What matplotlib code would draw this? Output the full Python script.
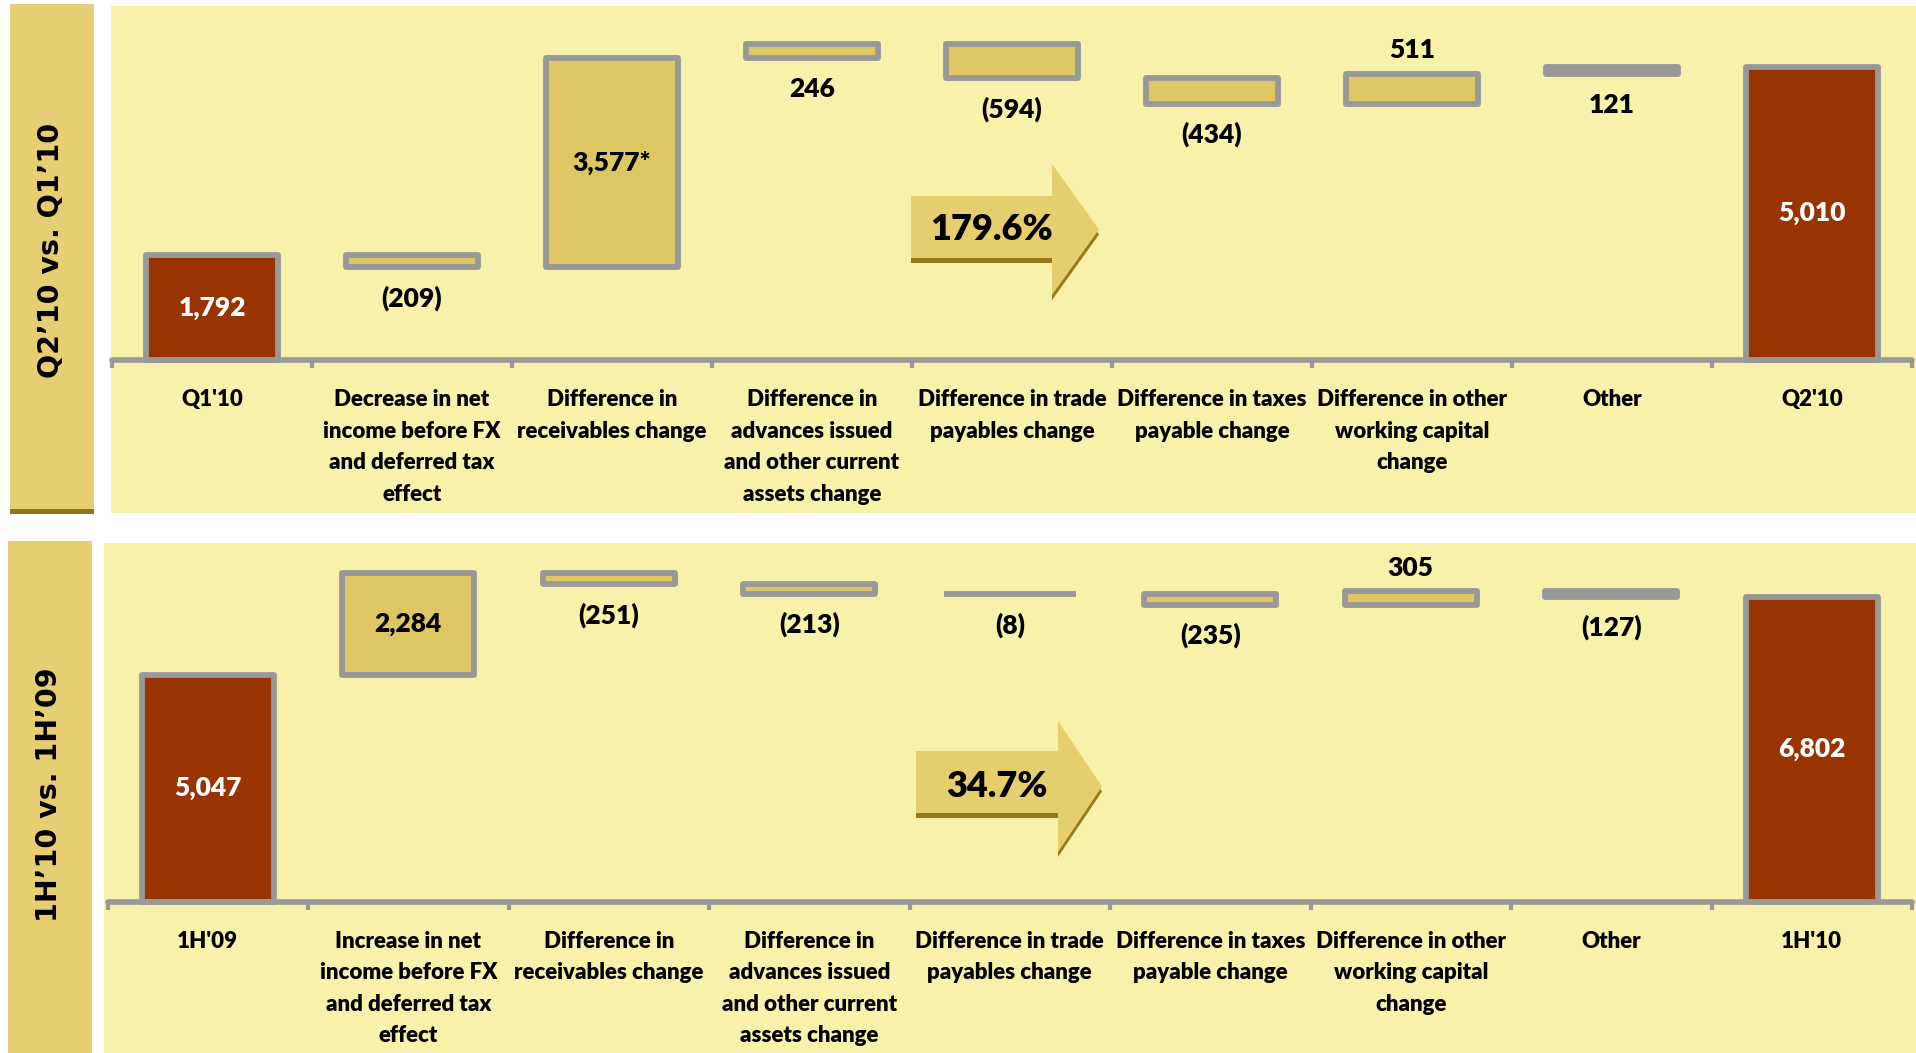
import matplotlib
matplotlib.use('Agg')
import matplotlib.pyplot as plt
import numpy as np
from matplotlib.patches import Rectangle, Polygon

# --- data -------------------------------------------------------------
top_cats = ["Q1'10",
            'Decrease in net\nincome before FX\nand deferred tax\neffect',
            'Difference in\nreceivables change',
            'Difference in\nadvances issued\nand other current\nassets change',
            'Difference in trade\npayables change',
            'Difference in taxes\npayable change',
            'Difference in other\nworking capital\nchange',
            'Other',
            "Q2'10"]
top_vals = [1792, -209, 3577, 246, -594, -434, 511, 121, 5010]
top_pos = ['in', 'below', 'in', 'below', 'below', 'below', 'above', 'below', 'in']
top_note = {2: '*'}

bot_cats = ["1H'09",
            'Increase in net\nincome before FX\nand deferred tax\neffect',
            'Difference in\nreceivables change',
            'Difference in\nadvances issued\nand other current\nassets change',
            'Difference in trade\npayables change',
            'Difference in taxes\npayable change',
            'Difference in other\nworking capital\nchange',
            'Other',
            "1H'10"]
bot_vals = [5047, 2284, -251, -213, -8, -235, 305, -127, 6802]
bot_pos = ['in', 'in', 'below', 'below', 'below', 'below', 'above', 'below', 'in']

top_title = 'Q2\u201910 vs. Q1\u201910'
bot_title = '1H\u201910 vs. 1H\u201909'
top_growth = '179.6%'
bot_growth = '34.7%'

# --- style ------------------------------------------------------------
BG = '#F7F1A9'
BAND = '#E5CF72'
BAND_DARK = '#8F7619'
STEP = '#DEC763'
TOTAL = '#993300'
GREY = '#999999'
ARROW = '#E5CE6E'
ARROW_DARK = '#97781A'
NARROW = ['Lato', 'DejaVu Sans']

W, H = 1916, 1053
fig = plt.figure(figsize=(W / 100, H / 100), dpi=100, facecolor='white')


def fx(x):
    return x / W


def fy(y):
    return 1 - y / H


def frect(x0, y0, x1, y1, color):
    fig.patches.append(Rectangle((fx(x0), fy(y1)), fx(x1) - fx(x0), fy(y0) - fy(y1),
                                 transform=fig.transFigure, facecolor=color,
                                 edgecolor='none', zorder=-2))


def arrow(x0, y0, y1, xb, yh0, yh1, xt, label):
    ym = (yh0 + yh1) / 2
    pts = [(x0, y0), (xb, y0), (xb, yh0), (xt, ym), (xb, yh1), (xb, y1), (x0, y1)]
    shadow = [(fx(px), fy(py + 5)) for px, py in pts]
    light = [(fx(px), fy(py)) for px, py in pts]
    fig.patches.append(Polygon(shadow, closed=True, transform=fig.transFigure,
                               facecolor=ARROW_DARK, edgecolor='none', zorder=1))
    fig.patches.append(Polygon(light, closed=True, transform=fig.transFigure,
                               facecolor=ARROW, edgecolor='none', zorder=2))
    fig.text(fx((x0 + xb) / 2 + 10), fy(ym), label, ha='center', va='center',
             fontsize=26, fontweight='heavy', family=NARROW, zorder=3)


def fmt(v):
    s = '{:,}'.format(abs(v))
    return '(%s)' % s if v < 0 else s


def waterfall(ax, cats, vals, pos, ymax, note=None):
    note = note or {}
    n = len(vals)
    x = np.arange(n)
    bottoms, heights, colors = [], [], []
    run = 0
    for i, v in enumerate(vals):
        if i == 0 or i == n - 1:
            bottoms.append(0)
            heights.append(v)
            colors.append(TOTAL)
            run = v
        else:
            lo = run + min(v, 0)
            bottoms.append(lo)
            heights.append(abs(v))
            colors.append(GREY if cats[i] == 'Other' else STEP)
            run += v
    ax.bar(x, heights, bottom=bottoms, width=0.66, color=colors,
           edgecolor=GREY, linewidth=4.2, joinstyle='round', zorder=3, clip_on=False)

    kw = dict(ha='center', va='center', fontsize=19, fontweight='heavy',
              family=NARROW, zorder=5)
    for i, v in enumerate(vals):
        txt = fmt(v) + note.get(i, '')
        b, h = bottoms[i], heights[i]
        if pos[i] == 'in':
            col = 'white' if colors[i] == TOTAL else 'black'
            ax.text(i, b + h / 2, txt, color=col, **kw)
        elif pos[i] == 'below':
            ax.annotate(txt, (i, b), xytext=(0, -22), textcoords='offset points', **kw)
        else:
            ax.annotate(txt, (i, b + h), xytext=(0, 17), textcoords='offset points', **kw)

    ax.set_xlim(-0.5, n - 0.5)
    ax.set_ylim(0, ymax)
    ax.patch.set_visible(False)
    for s in ['top', 'right', 'left']:
        ax.spines[s].set_visible(False)
    ax.spines['bottom'].set_color(GREY)
    ax.spines['bottom'].set_linewidth(4)
    ax.spines['bottom'].set_capstyle('round')
    ax.spines['bottom'].set_zorder(4)
    ax.set_yticks([])
    ax.set_xticks(x)
    ax.set_xticklabels(cats, fontsize=16, fontweight='heavy', family=NARROW,
                       linespacing=1.62, va='top')
    ax.set_xticks(np.arange(n + 1) - 0.5, minor=True)
    ax.tick_params(axis='x', which='major', length=0, pad=21)
    ax.tick_params(axis='x', which='minor', length=6, width=3, color=GREY, direction='out')


# backgrounds and side bands
frect(111, 6, 1916, 513, BG)
frect(10, 4, 94, 509, BAND)
frect(10, 509, 94, 514, BAND_DARK)
frect(104, 543, 1916, 1053, BG)
frect(8, 541, 92, 1053, BAND)

fig.text(fx(51), fy(250), top_title, rotation=90, ha='center', va='center',
         fontsize=20.5, fontweight='bold', family='DejaVu Sans')
fig.text(fx(49), fy(795), bot_title, rotation=90, ha='center', va='center',
         fontsize=20.5, fontweight='bold', family='DejaVu Sans')

ax1 = fig.add_axes([fx(112), fy(360), fx(1800), (360 - 6) / H])
waterfall(ax1, top_cats, top_vals, top_pos, 354 / 0.0585, top_note)

ax2 = fig.add_axes([fx(107.5), fy(901.5), fx(1804.5), 358.5 / H])
waterfall(ax2, bot_cats, bot_vals, bot_pos, 358.5 / 0.04478)

arrow(911, 196, 258, 1052, 164, 295, 1099, top_growth)
arrow(916, 751, 813, 1058, 721, 852, 1102, bot_growth)

fig.savefig('out.png', dpi=100, facecolor='white')
